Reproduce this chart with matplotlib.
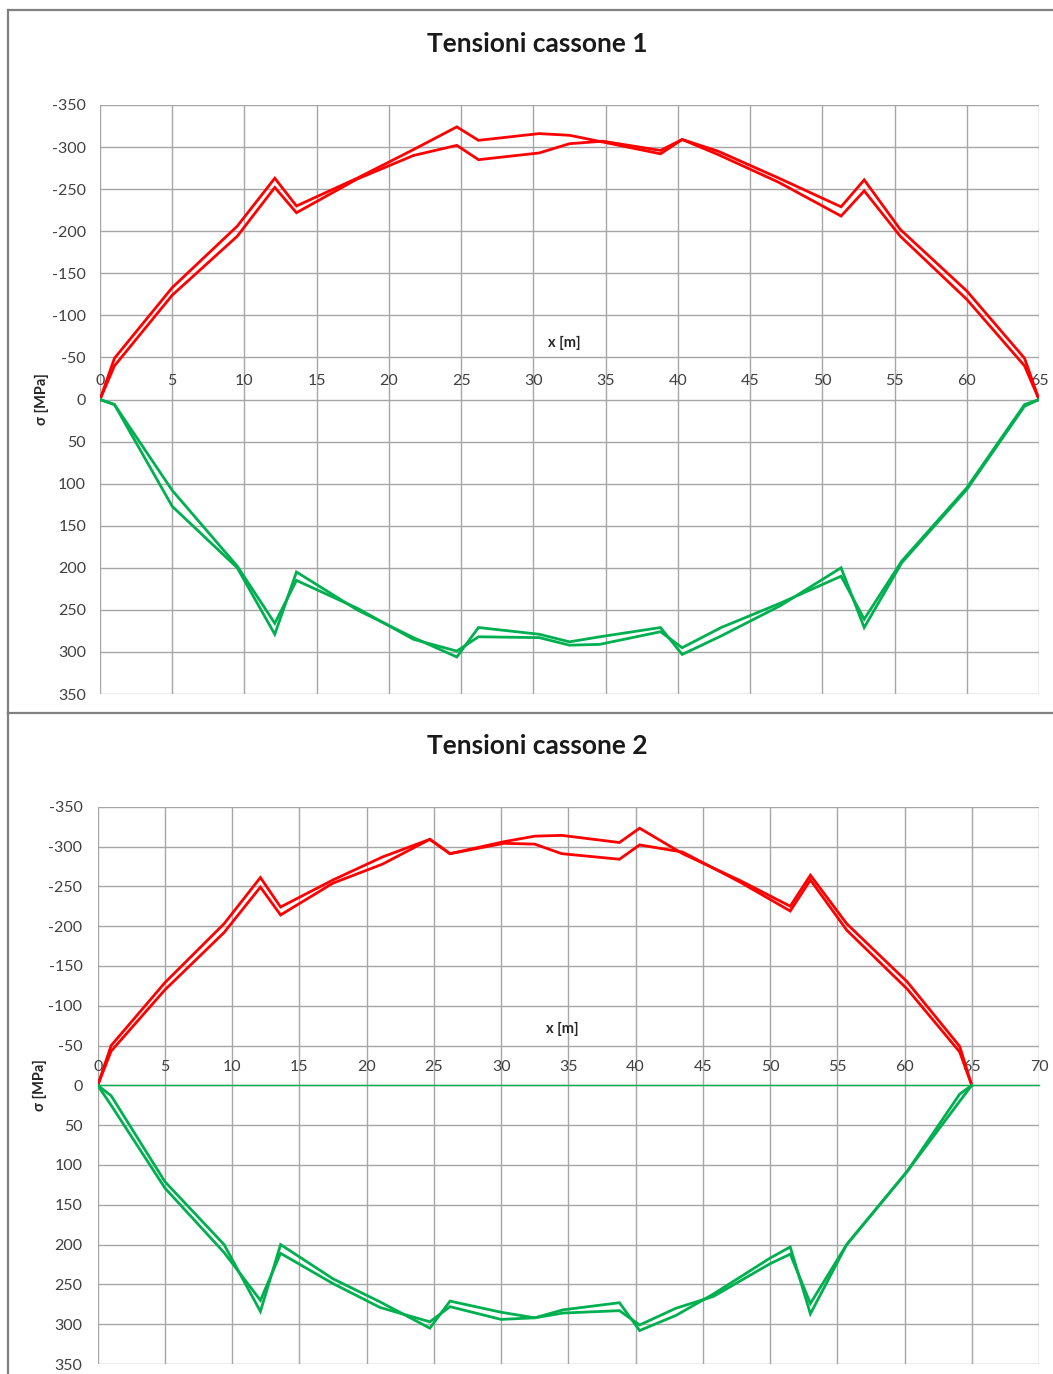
import matplotlib
matplotlib.use("Agg")
import matplotlib.pyplot as plt
from matplotlib.lines import Line2D

plt.rcParams['font.family'] = ['Lato', 'DejaVu Sans']

RED = '#ff0000'
GREEN = '#00b050'
GRID = '#a6a6a6'
TEXT = '#404040'

# ---------------- Cassone 1 ----------------
x_red_1 = [0, 1.0, 5.0, 9.5, 12.1, 13.6, 17.8, 21.7, 24.7, 26.2, 30.4, 32.5,
           34.8, 38.8, 40.3, 42.8, 47.0, 51.3, 52.9, 55.4, 60.0, 64.0, 65.0]
red_a_1 = [0, -49, -133, -206, -263, -230, -263, -297, -324, -308, -316, -314,
           -306, -292, -309, -295, -263, -229, -261, -202, -129, -49, 0]
red_b_1 = [0, -40, -124, -194, -252, -222, -262, -290, -302, -285, -293, -304,
           -307, -296, -309, -291, -258, -218, -248, -194, -119, -40, 0]

x_green_1 = [0, 1.0, 5.0, 9.5, 12.1, 13.6, 17.8, 21.7, 24.7, 26.2, 30.4, 32.5,
             34.6, 38.8, 40.3, 43.0, 47.1, 51.3, 52.9, 55.5, 60.0, 64.0, 65.0]
green_a_1 = [0, 6, 127, 200, 279, 205, 250, 283, 306, 271, 279, 288,
             282, 271, 303, 281, 245, 200, 271, 194, 107, 8, 0]
green_b_1 = [0, 6, 108, 198, 266, 215, 248, 285, 299, 282, 283, 292,
             291, 276, 295, 271, 242, 210, 261, 192, 105, 6, 0]

# ---------------- Cassone 2 ----------------
x_red_2 = [0, 1.0, 5.0, 9.4, 12.1, 13.6, 17.5, 21.2, 24.7, 26.2, 30.2, 32.5,
           34.5, 38.8, 40.3, 43.5, 47.8, 51.5, 53.0, 55.7, 60.2, 64.1, 65.0]
red_a_2 = [0, -50, -129, -203, -261, -224, -258, -287, -309, -291, -306, -313,
           -314, -305, -323, -291, -257, -225, -264, -203, -130, -49, 0]
red_b_2 = [0, -43, -120, -192, -249, -214, -254, -278, -309, -291, -304, -303,
           -291, -284, -302, -293, -255, -219, -258, -195, -121, -42, 0]

x_green_2 = [0, 1.0, 5.0, 9.4, 12.1, 13.6, 17.5, 21.0, 24.7, 26.2, 30.0, 32.5,
             34.6, 38.8, 40.3, 43.0, 45.8, 50.0, 51.5, 53.0, 55.7, 60.2, 64.1, 65.0]
green_a_2 = [0, 13, 121, 200, 284, 200, 243, 272, 305, 271, 285, 292,
             282, 273, 308, 289, 262, 217, 203, 287, 200, 108, 11, 0]
green_b_2 = [0, 25, 129, 210, 270, 211, 249, 279, 297, 278, 294, 292,
             286, 283, 301, 280, 265, 224, 212, 274, 200, 108, 20, 0]

y_ticks = list(range(-350, 351, 50))
y_labels = [str(v) for v in y_ticks]

W, H = 1053, 1374
fig = plt.figure(figsize=(W / 100, H / 100), dpi=100)


def box(x0, y0, w, h):
    return [x0 / W, 1 - (y0 + h) / H, w / W, h / H]


def style(ax, xmax, zero_color, ypad, xpad):
    ax.set_xlim(0, xmax)
    ax.set_ylim(350, -350)
    ax.set_xticks(list(range(0, xmax + 1, 5)))
    ax.set_yticks(y_ticks)
    ax.set_yticklabels(y_labels)
    ax.set_axisbelow(True)
    ax.grid(True, color=GRID, lw=1.0)
    for side in ('left', 'right', 'bottom'):
        ax.spines[side].set_visible(False)
    ax.xaxis.set_ticks_position('top')
    ax.spines['top'].set_position(('data', 0))
    if zero_color is None:
        ax.spines['top'].set_visible(False)
    else:
        ax.spines['top'].set_color(zero_color)
        ax.spines['top'].set_linewidth(1.0)
    ax.tick_params(axis='both', length=0, labelsize=11.5, labelcolor=TEXT)
    ax.tick_params(axis='y', pad=ypad)
    ax.tick_params(axis='x', pad=xpad)


def draw(ax, xr, ra, rb, xg, ga, gb):
    lw = 2.0
    ax.plot(xr, ra, color=RED, lw=lw, solid_joinstyle='miter')
    ax.plot(xr, rb, color=RED, lw=lw, solid_joinstyle='miter')
    ax.plot(xg, ga, color=GREEN, lw=lw, solid_joinstyle='miter')
    ax.plot(xg, gb, color=GREEN, lw=lw, solid_joinstyle='miter')


# upper chart
ax1 = fig.add_axes(box(100, 105, 939, 589))
style(ax1, 65, None, 10, 8)
draw(ax1, x_red_1, red_a_1, red_b_1, x_green_1, green_a_1, green_b_1)
ax1.text(0.494, 0.596, 'x [m]', transform=ax1.transAxes, ha='center',
         va='center', fontsize=10.5, fontweight='bold', color='#262626')
ax1.text(-0.062, 0.5, 'σ [MPa]', transform=ax1.transAxes, ha='center',
         va='center', rotation=90, fontsize=10.5, fontweight='bold', color='#262626')
fig.text(537 / W, 1 - 44 / H, 'Tensioni cassone 1', ha='center', va='center',
         fontsize=19, fontweight='bold', color='#1a1a1a')

# lower chart
ax2 = fig.add_axes(box(97.7, 806.7, 941.3, 557.3))
style(ax2, 70, GREEN, 11, 8)
draw(ax2, x_red_2, red_a_2, red_b_2, x_green_2, green_a_2, green_b_2)
ax2.text(0.494, 0.601, 'x [m]', transform=ax2.transAxes, ha='center',
         va='center', fontsize=10.5, fontweight='bold', color='#262626')
ax2.text(-0.061, 0.5, 'σ [MPa]', transform=ax2.transAxes, ha='center',
         va='center', rotation=90, fontsize=10.5, fontweight='bold', color='#262626')
fig.text(537 / W, 1 - 746 / H, 'Tensioni cassone 2', ha='center', va='center',
         fontsize=19, fontweight='bold', color='#1a1a1a')

# panel frames
frame_kw = dict(color='#808080', lw=1.6, transform=fig.transFigure)
for (xa, ya), (xb, yb) in [((8, 10), (1053, 10)), ((8, 10), (8, 713)),
                           ((8, 713), (1053, 713)), ((8, 713), (8, 1374))]:
    fig.add_artist(Line2D([xa / W, xb / W], [1 - ya / H, 1 - yb / H], **frame_kw))

fig.savefig('out.png', dpi=100, facecolor='white')
